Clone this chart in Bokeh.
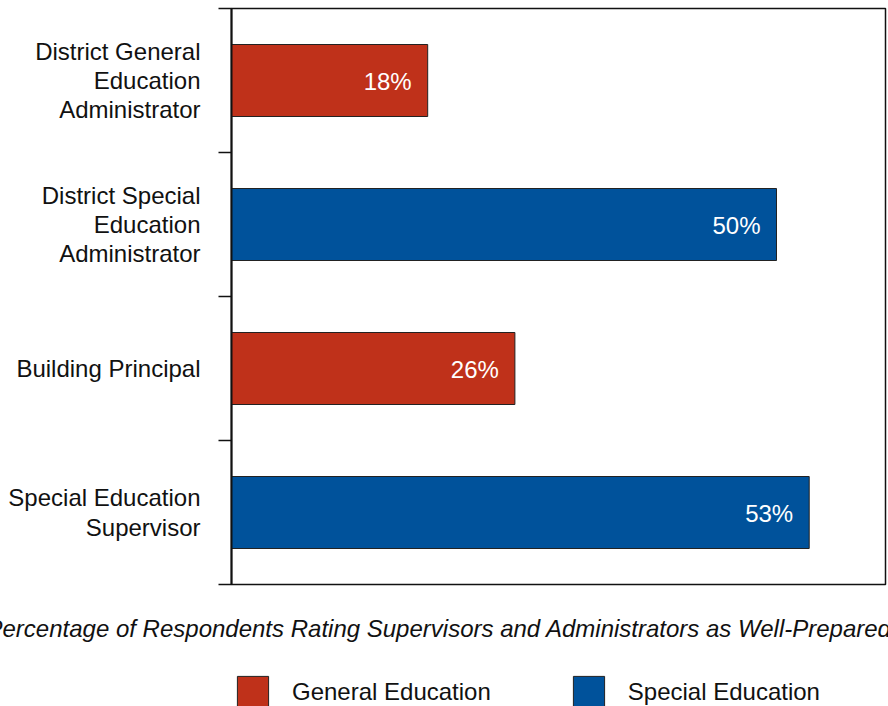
from bokeh.plotting import figure
from bokeh.layouts import column
from bokeh.models import (ColumnDataSource, FixedTicker, Title, Legend, LegendItem)
from bokeh.core.properties import value
from bokeh.transform import factor_cmap
from bokeh.embed import file_html
from bokeh.resources import INLINE

# ---- data ----
roles = [
    "District General\nEducation\nAdministrator",
    "District Special\nEducation\nAdministrator",
    "Building Principal",
    "Special Education\nSupervisor",
]
values = [18, 50, 26, 53]
groups = ["General Education", "Special Education", "General Education", "Special Education"]
group_names = ["General Education", "Special Education"]
group_colors = ["#BF311A", "#00529B"]
value_labels = [f"{v}%" for v in values]
x_title = "Percentage of Respondents Rating Supervisors and Administrators as Well-Prepared"

n = len(roles)
ypos = [n - i - 0.5 for i in range(n)]

src = ColumnDataSource(dict(y=ypos, v=values, g=groups, lab=value_labels))

FONT = "Liberation Sans"
FS = "24px"
INK = "#111111"

# ---- main chart ----
p = figure(width=888, height=586, x_range=(0, 60), y_range=(0, n),
           output_backend="svg", toolbar_location=None,
           min_border_left=231, min_border_top=8, min_border_right=3,
           min_border_bottom=2)

r = p.hbar(y="y", right="v", left=0, height=0.5, source=src,
           fill_color=factor_cmap("g", palette=group_colors, factors=group_names),
           line_color="#222222", line_width=1)

p.text(x="v", y="y", text="lab", source=src, text_align="right",
       text_baseline="middle", x_offset=-16, y_offset=1,
       text_color="white", text_font=value(FONT), text_font_size=FS)

p.xaxis.visible = False
p.xgrid.visible = False
p.ygrid.visible = False

ax = p.yaxis[0]
ax.ticker = FixedTicker(ticks=ypos, minor_ticks=list(range(n + 1)))
ax.major_label_overrides = {y: lab for y, lab in zip(ypos, roles)}
ax.major_tick_line_color = None
ax.major_tick_out = 0
ax.major_tick_in = 0
ax.minor_tick_out = 13
ax.minor_tick_in = 0
ax.minor_tick_line_color = INK
ax.minor_tick_line_width = 1.5
ax.axis_line_color = INK
ax.axis_line_width = 2
ax.major_label_standoff = 18
ax.major_label_text_font = FONT
ax.major_label_text_font_size = FS
ax.major_label_text_color = INK
ax.major_label_text_line_height = 1.09

p.outline_line_color = INK
p.outline_line_width = 1.5

# ---- bottom strip: axis title + legend ----
q = figure(width=888, height=120, x_range=(0, 1), y_range=(0, 1),
           output_backend="svg", toolbar_location=None,
           min_border_left=231, min_border_right=3, min_border_top=60,
           min_border_bottom=0)
q.axis.visible = False
q.grid.visible = False
q.outline_line_color = None

# swatch renderers for the legend (kept outside the visible range)
swatch_src = ColumnDataSource(dict(y=[-10], right=[-10]))
sw = [q.hbar(y="y", right="right", height=0.5, source=swatch_src,
             fill_color=c, line_color="#222222", line_width=1)
      for c in group_colors]

q.add_layout(Title(text=x_title, align="left", offset=-245,
                   text_font=FONT, text_font_style="italic",
                   text_font_size=FS, text_color=INK, standoff=10), "above")

legend = Legend(items=[LegendItem(label=nm, renderers=[rr])
                       for nm, rr in zip(group_names, sw)],
                orientation="horizontal", location=(2, -5),
                glyph_width=39, glyph_height=39, label_standoff=20, spacing=78,
                padding=0, margin=0, border_line_color=None,
                background_fill_alpha=0,
                label_text_font=FONT, label_text_font_size=FS,
                label_text_color=INK)
q.add_layout(legend)

layout = column(p, q, spacing=0)
open("out.html", "w").write(file_html(layout, INLINE))
